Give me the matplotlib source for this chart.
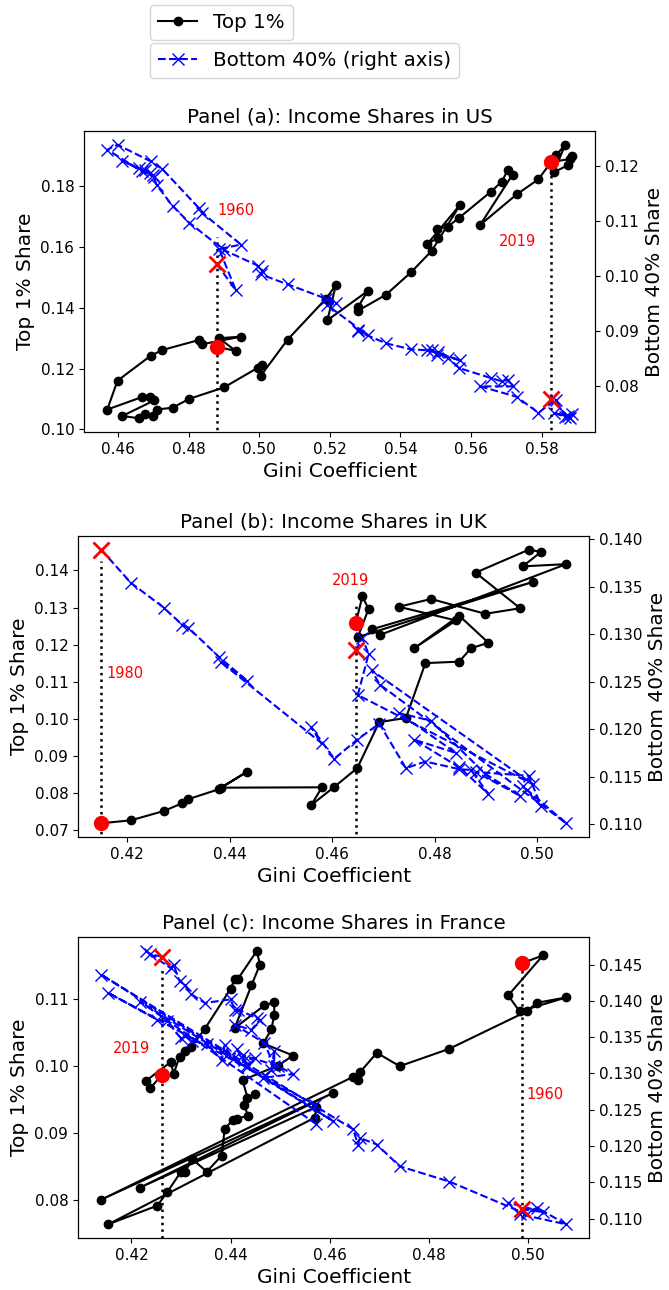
import matplotlib
matplotlib.use("Agg")
import matplotlib.pyplot as plt
from matplotlib.lines import Line2D

# ---- US, 1960-2019 (Gini, top 1% share, bottom 40% share) ----
us_gini = [0.4879, 0.4933, 0.4886, 0.4948, 0.4837, 0.4829, 0.4725, 0.4692, 0.4598, 0.4569,
           0.4667, 0.4689, 0.4702, 0.4612, 0.4659, 0.4675, 0.4698, 0.4709, 0.4754, 0.4801,
           0.4900, 0.4995, 0.5009, 0.5004, 0.5080, 0.5189, 0.5217, 0.5193, 0.5307, 0.5280,
           0.5279, 0.5359, 0.5430, 0.5489, 0.5569, 0.5476, 0.5506, 0.5504, 0.5534, 0.5567,
           0.5657, 0.5687, 0.5704, 0.5718, 0.5626, 0.5730, 0.5791, 0.5841, 0.5867, 0.5834,
           0.5874, 0.5887, 0.5880, 0.5827]
us_top1 = [0.1272, 0.1258, 0.1300, 0.1305, 0.1280, 0.1294, 0.1261, 0.1242, 0.1160, 0.1065,
           0.1106, 0.1107, 0.1095, 0.1044, 0.1036, 0.1049, 0.1044, 0.1065, 0.1071, 0.1100,
           0.1138, 0.1202, 0.1212, 0.1176, 0.1295, 0.1430, 0.1475, 0.1359, 0.1455, 0.1403,
           0.1390, 0.1443, 0.1517, 0.1588, 0.1739, 0.1610, 0.1630, 0.1660, 0.1667, 0.1697,
           0.1783, 0.1815, 0.1853, 0.1839, 0.1673, 0.1774, 0.1823, 0.1902, 0.1937, 0.1846,
           0.1869, 0.1899, 0.1890, 0.1880]
us_bot40 = [0.1022, 0.0975, 0.1049, 0.1057, 0.1115, 0.1123, 0.1194, 0.1208, 0.1238, 0.1229,
            0.1190, 0.1186, 0.1180, 0.1209, 0.1195, 0.1192, 0.1183, 0.1165, 0.1127, 0.1097,
            0.1047, 0.1019, 0.1010, 0.1003, 0.0985, 0.0959, 0.0951, 0.0947, 0.0893, 0.0902,
            0.0900, 0.0878, 0.0867, 0.0865, 0.0847, 0.0866, 0.0862, 0.0856, 0.0852, 0.0833,
            0.0815, 0.0809, 0.0812, 0.0800, 0.0800, 0.0781, 0.0752, 0.0776, 0.0745, 0.0752,
            0.0746, 0.0749, 0.0742, 0.0777]

# ---- UK, 1980-2019 ----
uk_gini = [0.4149, 0.4207, 0.4271, 0.4307, 0.4319, 0.4379, 0.4434, 0.4382, 0.4580, 0.4559,
           0.4604, 0.4649, 0.4692, 0.4744, 0.4782, 0.4848, 0.4871, 0.4905, 0.4848, 0.4760,
           0.4842, 0.4730, 0.4793, 0.4899, 0.4967, 0.4880, 0.4984, 0.5008, 0.4972, 0.5057,
           0.4693, 0.4677, 0.4992, 0.4650, 0.4671, 0.4659, 0.4646]
uk_top1 = [0.0718, 0.0726, 0.0751, 0.0772, 0.0783, 0.0810, 0.0857, 0.0814, 0.0815, 0.0767,
           0.0816, 0.0867, 0.0991, 0.1002, 0.1150, 0.1154, 0.1190, 0.1205, 0.1278, 0.1190,
           0.1265, 0.1302, 0.1323, 0.1283, 0.1298, 0.1394, 0.1456, 0.1450, 0.1411, 0.1417,
           0.1226, 0.1241, 0.1369, 0.1220, 0.1296, 0.1330, 0.1258]
uk_bot40 = [0.1389, 0.1354, 0.1328, 0.1310, 0.1307, 0.1276, 0.1251, 0.1271, 0.1185, 0.1202,
            0.1169, 0.1189, 0.1206, 0.1159, 0.1166, 0.1158, 0.1157, 0.1132, 0.1160, 0.1189,
            0.1175, 0.1217, 0.1209, 0.1153, 0.1130, 0.1155, 0.1151, 0.1119, 0.1140, 0.1101,
            0.1247, 0.1262, 0.1142, 0.1236, 0.1279, 0.1296, 0.1283]

# ---- France, 1960-2019 ----
fr_gini = [0.4987, 0.5030, 0.4960, 0.4983, 0.5077, 0.5018, 0.4997, 0.4841, 0.4741, 0.4695,
           0.4661, 0.4657, 0.4647, 0.4139, 0.4607, 0.4217, 0.4573, 0.4570, 0.4153, 0.4252,
           0.4272, 0.4299, 0.4308, 0.4322, 0.4352, 0.4382, 0.4388, 0.4404, 0.4412, 0.4435,
           0.4427, 0.4449, 0.4434, 0.4424, 0.4496, 0.4526, 0.4466, 0.4482, 0.4488, 0.4488,
           0.4468, 0.4408, 0.4442, 0.4459, 0.4453, 0.4415, 0.4408, 0.4400, 0.4348, 0.4321,
           0.4308, 0.4297, 0.4285, 0.4279, 0.4229, 0.4238, 0.4261]
fr_top1 = [0.1154, 0.1166, 0.1106, 0.1082, 0.1103, 0.1095, 0.1082, 0.1026, 0.1000, 0.1020,
           0.0991, 0.0979, 0.0984, 0.0800, 0.0960, 0.0818, 0.0939, 0.0923, 0.0763, 0.0791,
           0.0811, 0.0841, 0.0841, 0.0861, 0.0842, 0.0866, 0.0906, 0.0919, 0.0921, 0.0926,
           0.0942, 0.0958, 0.0953, 0.0979, 0.1001, 0.1016, 0.1034, 0.1055, 0.1076, 0.1096,
           0.1091, 0.1057, 0.1121, 0.1152, 0.1173, 0.1131, 0.1130, 0.1116, 0.1056, 0.1029,
           0.1022, 0.1014, 0.0989, 0.1006, 0.0978, 0.0967, 0.0987]
fr_bot40 = [0.1113, 0.1109, 0.1122, 0.1106, 0.1092, 0.1115, 0.1106, 0.1151, 0.1172, 0.1202,
            0.1211, 0.1202, 0.1223, 0.1436, 0.1234, 0.1399, 0.1230, 0.1257, 0.1411, 0.1374,
            0.1372, 0.1349, 0.1352, 0.1345, 0.1340, 0.1318, 0.1339, 0.1320, 0.1333, 0.1310,
            0.1318, 0.1321, 0.1312, 0.1325, 0.1310, 0.1299, 0.1294, 0.1305, 0.1331, 0.1310,
            0.1342, 0.1367, 0.1360, 0.1374, 0.1376, 0.1388, 0.1387, 0.1402, 0.1397, 0.1409,
            0.1422, 0.1427, 0.1450, 0.1445, 0.1469, 0.1464, 0.1461]

panels = [
    # title, gini, top1, bot40, marked years (index, line top, label x, label y, ha)
    ("Panel (a): Income Shares in US", us_gini, us_top1, us_bot40,
     [(0, 0.1632, 0.4882, 0.1719, "left"), (-1, 0.1880, 0.5785, 0.1619, "right")],
     ["1960", "2019"], [0.1256, 0.6651]),
    ("Panel (b): Income Shares in UK", uk_gini, uk_top1, uk_bot40,
     [(0, 0.1426, 0.4160, 0.1122, "left"), (-1, 0.1314, 0.4635, 0.1372, "center")],
     ["1980", "2019"], [0.1166, 0.3512]),
    ("Panel (c): Income Shares in France", fr_gini, fr_top1, fr_bot40,
     [(-1, 0.1148, 0.4237, 0.1027, "right"), (0, 0.1154, 0.4997, 0.0958, "left")],
     ["2019", "1960"], [0.1166, 0.0403]),
]

fig = plt.figure(figsize=(6.69, 12.9), dpi=100)

for title, gini, top1, bot40, marks, years, (left, bottom) in panels:
    ax = fig.add_axes([left, bottom, 0.7645, 0.2333])
    ax2 = ax.twinx()
    ax.plot(gini, top1, "-o", color="black", ms=6, lw=1.5)
    ax2.plot(gini, bot40, "--x", color="blue", ms=9, lw=1.5)
    for (i, ytop, tx, ty, ha), yr in zip(marks, years):
        ax.plot(gini[i], top1[i], "o", color="red", ms=10, zorder=5)
        ax2.plot(gini[i], bot40[i], "x", color="red", ms=11, mew=2, zorder=5)
    ylim = ax.get_ylim()
    for (i, ytop, tx, ty, ha), yr in zip(marks, years):
        ax.plot([gini[i], gini[i]], [ylim[0] - 1, ytop], ":", color="black", lw=1.8)
        ax.text(tx, ty, yr, color="red", fontsize=10.5, ha=ha, va="center")
    ax.set_ylim(ylim)
    ax.set_title(title, fontsize=14.3)
    ax.set_xlabel("Gini Coefficient", fontsize=14.5)
    ax.set_ylabel("Top 1% Share", fontsize=14.5)
    ax2.set_ylabel("Bottom 40% Share", fontsize=14.5)
    ax.tick_params(labelsize=11)
    ax2.tick_params(labelsize=11)

h1 = Line2D([], [], color="black", marker="o", ms=6, lw=1.5)
h2 = Line2D([], [], color="blue", marker="x", ls="--", ms=9, lw=1.5)
fig.legend([h1], ["Top 1%"], loc="upper left", bbox_to_anchor=(0.209, 1.004), fontsize=14.3)
fig.legend([h2], ["Bottom 40% (right axis)"], loc="upper left",
           bbox_to_anchor=(0.209, 0.9744), fontsize=14.3)

fig.savefig("out.png", dpi=100)
